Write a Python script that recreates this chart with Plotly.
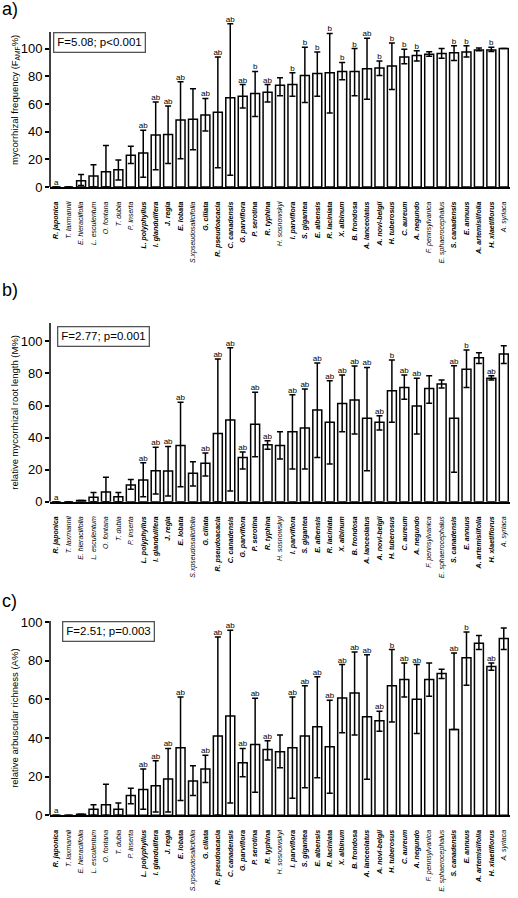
import plotly.graph_objects as go

species = ["R. japonica", "T. laxmannii", "E. hieraciifolia", "L. esculentum", "O. fontana",
           "T. dubia", "P. inserta", "L. polyphyllus", "I. glandulifera", "J. regia", "E. lobata",
           "S.xpseudosalicifolia", "G. ciliata", "R. pseudoacacia", "C. canadensis", "G. parviflora",
           "P. serotina", "R. typhina", "H. sosnowskyi", "I. parviflora", "S. gigantea", "E. albensis",
           "R. laciniata", "X. albinum", "B. frondosa", "A. lanceolatus", "A. novi-belgii",
           "H. tuberosus", "C. aureum", "A. negundo", "F. pennsylvanica", "E. sphaerocephalus",
           "S. canadensis", "E. annuus", "A. artemisiifolia", "H. xlaetiflorus", "A. syriaca"]
bold = [1, 0, 0, 0, 0, 0, 0, 1, 1, 1, 1, 0, 1, 1, 1, 1, 1, 1, 0, 1, 1, 1, 1, 1, 1, 1, 1, 1, 1, 1,
        0, 0, 1, 1, 1, 1, 0]

# a) mycorrhizal frequency
freq_mean = [0, 0, 4.5, 8, 11, 12.5, 23, 24.5, 37.5, 38, 48.5, 49, 52, 54, 64.5, 65.5, 67.5, 68.5,
             73.5, 74, 80.5, 82, 82.5, 83.5, 83.5, 85.5, 86, 87.5, 94, 95, 96, 96.5, 97, 97.5, 99, 99, 100]
freq_hi = [0, 0, 9, 16, 30, 19.5, 29.5, 41, 61.5, 58.5, 76, 71, 64, 94, 118, 74, 83.5, 74, 79, 82.5,
           101, 97.5, 111, 90, 100, 107.5, 91, 104, 99.5, 98.5, 97.8, 100, 102, 102, 100.5, 101, 100]
freq_lo = [0, 0, 1, 0, 0, 5, 17, 7, 12.5, 17, 20.5, 27, 40.5, 14, 8.5, 57, 51, 61.5, 66, 65.5, 61,
           65.5, 53.5, 77.5, 66, 63.5, 80.5, 70.5, 89, 91, 94.5, 93, 91.5, 94, 98.5, 98, 100]
freq_letters = ["a", "", "", "", "", "", "", "ab", "ab", "ab", "ab", "", "ab", "ab", "ab", "ab", "b",
                "ab", "", "b", "b", "b", "b", "b", "b", "ab", "b", "b", "b", "b", "", "", "b", "b",
                "", "b", ""]

# b) relative mycorrhizal root length
mrl_mean = [0, 0, 0.8, 2.7, 6, 3.1, 10.4, 13.5, 19.3, 19.1, 35, 17.7, 24, 42.6, 51, 27.6, 48.4, 35.5,
            35, 43.7, 46, 57.2, 49.5, 61.3, 63.4, 52, 49.5, 69.2, 71.3, 59.7, 70.7, 73.4, 52, 82.7,
            89.8, 77.1, 92.1]
mrl_hi = [0, 0, 0.8, 5.8, 15.2, 5.8, 13.8, 24.3, 34, 34.5, 62, 25, 30.4, 89, 96, 31, 68.3, 38, 43.7,
          66.7, 70.3, 86.5, 75.5, 79, 84.6, 83.8, 53.6, 88.4, 79, 77, 78.6, 76, 84.8, 94.6, 93, 78.6,
          97.3]
mrl_lo = [0, 0, 0.8, 0, 0, 0, 7.7, 3.1, 4.8, 3.5, 9.4, 9.8, 16, 0, 6.6, 20.4, 28, 32.8, 26.6, 20.4,
          20.4, 27.6, 23.5, 43.7, 42.2, 19.3, 44.7, 49.5, 64, 42.2, 61.5, 70.9, 18.3, 71.3, 86.3,
          76, 86.3]
mrl_letters = ["a", "", "", "", "", "", "", "ab", "ab", "ab", "ab", "", "ab", "ab", "ab", "ab", "ab",
               "ab", "", "ab", "ab", "ab", "ab", "ab", "ab", "ab", "ab", "b", "ab", "ab", "", "",
               "ab", "b", "", "ab", ""]

# c) relative arbuscular richness
arb_mean = [0, 0, 0.5, 3.1, 5.5, 3.1, 10.3, 13.4, 15.3, 18.8, 35, 17.7, 24, 41, 51.3, 27.2, 36.6, 34,
            32.9, 35, 41, 45.8, 35.4, 60.7, 63.3, 51, 48.9, 67, 70.2, 60, 70.2, 73.3, 44.4, 81.5, 89,
            77, 91.4]
arb_hi = [0, 0, 0.5, 5.5, 16, 6.4, 14, 24, 28.2, 34.6, 61.2, 25.6, 31, 92.2, 95.7, 34.6, 60.5, 38.5,
          41.5, 61.2, 67, 71.6, 59.5, 78, 84.5, 83, 53.8, 85.7, 78.8, 78, 78.8, 75.5, 84, 94.8, 93,
          78.8, 96.9]
arb_lo = [0, 0, 0.5, 0, 0, 0, 6, 3.1, 1.7, 1.7, 7.7, 10.3, 17, 0, 6.4, 20, 11.9, 28.6, 24.6, 8.8,
          14.3, 19.4, 11.4, 42.7, 41.5, 18.6, 43.5, 48.3, 61.2, 42.3, 61.6, 70.7, 44.4, 67.3, 85.7,
          75, 85.7]
arb_letters = mrl_letters

stats = ["F=5.08; p<0.001", "F=2.77; p=0.001", "F=2.51; p=0.003"]
ytitles = ["mycorrhizal frequency (F<sub>AMF</sub>%)", "relative mycorrhizal root length (M%)",
           "relative arbuscular richness (A%)"]
panel_tags = ["a)", "b)", "c)"]

W, H = 518.0, 898.0
ML, MR = 50, 8
PW = W - ML - MR
FONT = "Liberation Sans, Arial, sans-serif"
ticktext = [("<b><i>%s</i></b>" % s) if b else ("<i>%s</i>" % s) for s, b in zip(species, bold)]

# per panel: data, visible axis-line top (value), full range top, pixel rows of axis top / y=0, stats box
panels = [
    (freq_mean, freq_hi, freq_lo, freq_letters, 112, 126, (32, 187), (53, 32)),
    (mrl_mean, mrl_hi, mrl_lo, mrl_letters, 111.5, 111.5, (323, 501.7), (57, 326)),
    (arb_mean, arb_hi, arb_lo, arb_letters, 100.5, 100.5, (621, 815.3), (62, 621)),
]

fig = go.Figure()
layout = {}
shapes = []
for i, (mean, hi, lo, letters, ltop, rtop, (ptop, pbot), (bx, by)) in enumerate(panels):
    n = "" if i == 0 else str(i + 1)
    xa, ya = "x" + n, "y" + n
    pxu = (pbot - ptop) / ltop
    dtop = pbot - rtop * pxu
    fig.add_trace(go.Bar(
        x=species, y=mean, xaxis=xa, yaxis=ya, width=0.72,
        marker=dict(color="white", line=dict(color="black", width=1.5)),
        error_y=dict(type="data", symmetric=False,
                     array=[h - m for h, m in zip(hi, mean)],
                     arrayminus=[m - l for m, l in zip(mean, lo)],
                     color="black", thickness=1.5, width=3),
        cliponaxis=False, showlegend=False, hoverinfo="skip"))
    lx = [s for s, t in zip(species, letters) if t]
    ly = [h for h, t in zip(hi, letters) if t]
    lt = [t for t in letters if t]
    fig.add_trace(go.Scatter(
        x=lx, y=ly, xaxis=xa, yaxis=ya, mode="text", text=lt,
        textposition="top center", textfont=dict(size=8, color="black", family=FONT),
        cliponaxis=False, showlegend=False, hoverinfo="skip"))
    layout["xaxis" + n] = dict(
        domain=[0, 1], anchor=ya, type="category", range=[-0.5, 36.5], automargin=False,
        categoryorder="array", categoryarray=species,
        showline=True, linecolor="black", linewidth=1.5, mirror=False,
        tickmode="array", tickvals=species, ticktext=ticktext, tickangle=-90,
        tickfont=dict(size=7, color="black", family=FONT), ticks="",
        ticklabelstandoff=10, showgrid=False, zeroline=False)
    layout["yaxis" + n] = dict(
        domain=[1 - pbot / H, 1 - dtop / H], anchor=xa, range=[0, rtop], automargin=False,
        tickvals=[0, 20, 40, 60, 80, 100], ticks="outside", ticklen=4, tickwidth=1.5,
        tickcolor="black", showline=False,
        tickfont=dict(size=13, color="black", family=FONT), showgrid=False, zeroline=False,
        title=dict(text=ytitles[i], font=dict(size=9.5, color="black", family=FONT), standoff=0))
    shapes.append(dict(type="line", xref=xa + " domain", yref=ya, x0=0, x1=0, y0=0, y1=ltop,
                       line=dict(color="black", width=1.5), layer="above"))
    fig.add_annotation(
        text=stats[i], xref="paper", yref="paper", x=(bx - ML) / PW, y=1 - by / H,
        xanchor="left", yanchor="top", showarrow=False,
        font=dict(size=11.5, color="black", family=FONT),
        bordercolor="#555", borderwidth=1.3, borderpad=3, bgcolor="white")

for tag, cy in zip(panel_tags, [8.5, 290, 601]):
    fig.add_annotation(text=tag, xref="paper", yref="paper", x=(0 - ML) / PW,
                       y=1 - cy / H, xanchor="left", yanchor="middle", showarrow=False,
                       font=dict(size=18, color="black", family=FONT))

fig.update_layout(
    **layout,
    shapes=shapes,
    width=W, height=H,
    margin=dict(l=ML, r=MR, t=0, b=0, autoexpand=False),
    paper_bgcolor="white", plot_bgcolor="white",
    font=dict(family=FONT, color="black"),
    bargap=0.28, showlegend=False)

fig.write_html("out.html", config={"displayModeBar": False},
               post_script="document.body.style.margin='0';document.body.style.overflow='hidden';")
